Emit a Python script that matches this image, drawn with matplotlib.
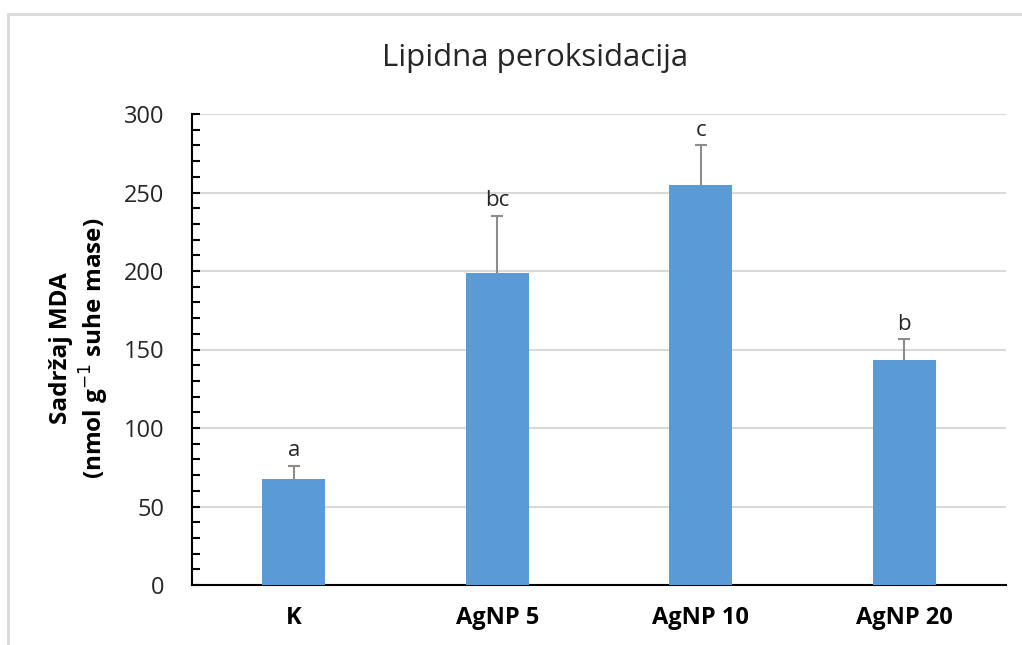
import matplotlib.pyplot as plt
import numpy as np
from matplotlib.patches import Rectangle

plt.rcParams['font.family'] = ['Open Sans', 'DejaVu Sans']

categories = ['K', 'AgNP 5', 'AgNP 10', 'AgNP 20']
mda = [67.5, 198.5, 255, 143.5]
sd = [8.5, 36.5, 25, 13]
letters = ['a', 'bc', 'c', 'b']

fig = plt.figure(figsize=(10.22, 6.45), dpi=100)
fig.patches.append(Rectangle((8 / 1022, -0.1), 1.2, 1 - 14 / 645 + 0.1,
                             transform=fig.transFigure, fill=False,
                             edgecolor='#d9d9d9', linewidth=2))

ax = fig.add_axes([192 / 1022, 1 - 585 / 645, (1006 - 192) / 1022, (585 - 114) / 645])
x = np.arange(len(categories))
tops = np.array(mda) + np.array(sd)
ax.bar(x, mda, width=0.31, color='#5b9bd5', zorder=3)
# upper half of the error bars only
ax.vlines(x, mda, tops, color='#8c8c8c', linewidth=1.5, zorder=4)
ax.plot(x, tops, linestyle='none', marker='_', markersize=9,
        markeredgewidth=1.5, color='#8c8c8c', zorder=4)
for xi, t, l in zip(x, tops, letters):
    ax.text(xi, t + 3, l, ha='center', va='bottom', fontsize=16, color='#262626')

ax.set_xlim(-0.5, 3.5)
ax.set_ylim(0, 300)
ax.set_yticks(np.arange(0, 301, 50))
ax.set_yticks(np.arange(0, 301, 10), minor=True)
ax.yaxis.grid(True, color='#d9d9d9', linewidth=1.5, zorder=0)
ax.set_xticks(x)
ax.set_xticklabels(categories, fontsize=17, fontweight='bold')
ax.tick_params(axis='x', length=0, pad=15)
ax.tick_params(axis='y', which='both', direction='in', length=6, width=1.5,
               labelsize=17, pad=20, colors='black', labelcolor='#262626')
for s in ['top', 'right']:
    ax.spines[s].set_visible(False)
ax.spines['left'].set_linewidth(1.5)
ax.spines['bottom'].set_linewidth(1.5)

fig.text(80 / 1022, 1 - 348 / 645, 'Sadržaj MDA\n(nmol g$^{-1}$ suhe mase)',
         rotation=90, ha='center', va='center', fontsize=17.5,
         fontweight='bold', linespacing=1.2)
fig.text(535 / 1022, 1 - 58 / 645, 'Lipidna peroksidacija', ha='center',
         va='center', fontsize=22.5, color='#262626')

fig.savefig('out.png', dpi=100)
